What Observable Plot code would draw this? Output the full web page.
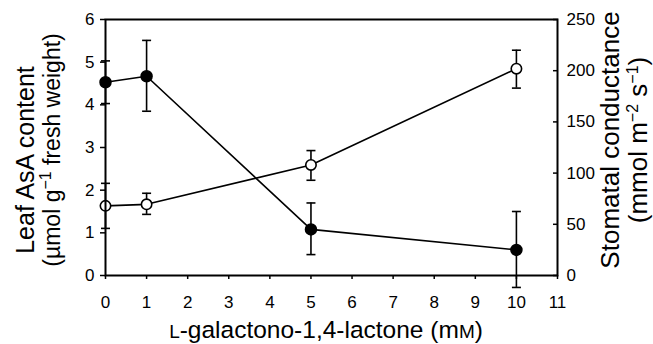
<!DOCTYPE html>
<html><head><meta charset="utf-8">
<script src="https://cdn.jsdelivr.net/npm/d3@7"></script>
<script src="https://cdn.jsdelivr.net/npm/@observablehq/plot@0.6"></script>
<style>body{margin:0;background:#fff} svg{font-family:"Liberation Sans",Arial,sans-serif}</style>
</head><body><div id="chart"></div>
<script>
const concentration = [0, 1, 5, 10];
const asaMean = [4.53, 4.67, 1.08, 0.60];
const asaLow = [4.03, 3.85, 0.49, -0.28];
const asaHigh = [5.03, 5.51, 1.70, 1.50];
const conductanceMean = [68, 69.5, 108, 202];
const conductanceLow = [46, 59.7, 93, 183];
const conductanceHigh = [90, 80.3, 122, 220];
const xTicks = [0, 1, 2, 3, 4, 5, 6, 7, 8, 9, 10, 11];
const leftTicks = [0, 1, 2, 3, 4, 5, 6];
const rightTicks = [0, 50, 100, 150, 200, 250];

const k = 250 / 6;
const asa = concentration.map((x, i) => ({x, y: asaMean[i], lo: asaLow[i], hi: asaHigh[i]}));
const cond = concentration.map((x, i) => ({x, y: conductanceMean[i] / k, lo: conductanceLow[i] / k, hi: conductanceHigh[i] / k}));
const caps = [...asa, ...cond].flatMap(d => [{x: d.x, y: d.lo}, {x: d.x, y: d.hi}]);
const capSymbol = {draw(ctx) { ctx.moveTo(-4.5, 0); ctx.lineTo(4.5, 0); }};

const plot = Plot.plot({
  width: 653, height: 344,
  marginLeft: 105, marginRight: 96, marginTop: 19, marginBottom: 69,
  style: {fontFamily: '"Liberation Sans", Arial, sans-serif', fontSize: "17px", color: "black", background: "white", overflow: "visible"},
  x: {domain: [0, 11], label: null},
  y: {domain: [0, 6], label: null},
  marks: [
    Plot.ruleX(asa, {x: "x", y1: "lo", y2: "hi", stroke: "black", strokeWidth: 1.6}),
    Plot.ruleX(cond, {x: "x", y1: "lo", y2: "hi", stroke: "black", strokeWidth: 1.6}),
    Plot.dot(caps, {x: "x", y: "y", symbol: capSymbol, stroke: "black", strokeWidth: 1.6, r: 4}),
    Plot.line(asa, {x: "x", y: "y", stroke: "black", strokeWidth: 1.6}),
    Plot.line(cond, {x: "x", y: "y", stroke: "black", strokeWidth: 1.6}),
    Plot.dot(asa, {x: "x", y: "y", r: 5.5, fill: "black", stroke: "black"}),
    Plot.dot(cond, {x: "x", y: "y", r: 5.2, fill: "white", stroke: "black", strokeWidth: 1.6}),
    Plot.frame({stroke: "black", strokeWidth: 2}),
    Plot.axisX(xTicks, {tickSize: 4, tickPadding: 16, strokeWidth: 1.5, label: null, tickFormat: d => String(d)}),
    Plot.axisY(leftTicks, {anchor: "left", tickSize: 5, tickPadding: 6, strokeWidth: 1.5, label: null, tickFormat: d => String(d)}),
    Plot.axisY(rightTicks.map(v => v / k), {anchor: "right", tickSize: -5, tickPadding: 14, strokeWidth: 1.5, label: null, tickFormat: d => String(Math.round(d * k))})
  ]
});

const svg = d3.select(plot);
const sup = 16;
svg.append("text").attr("transform", "translate(34,160) rotate(-90)")
  .attr("text-anchor", "middle").attr("font-size", 25).attr("fill", "black")
  .text("Leaf AsA content");
const l2 = svg.append("text").attr("transform", "translate(60,150) rotate(-90)")
  .attr("text-anchor", "middle").attr("font-size", 23).attr("fill", "black");
l2.append("tspan").text("(µmol g");
l2.append("tspan").attr("dy", -9).attr("font-size", sup).text("−1");
l2.append("tspan").attr("dy", 9).text(" fresh weight)");

const right = svg.append("text").attr("transform", "translate(619,140) rotate(-90)")
  .attr("text-anchor", "middle").attr("font-size", 26).attr("fill", "black");
right.append("tspan").attr("x", 0).attr("y", 0).text("Stomatal conductance");
const r2 = right.append("tspan").attr("x", 0).attr("y", 28);
r2.append("tspan").text("(mmol m");
r2.append("tspan").attr("dy", -9).attr("font-size", sup).text("−2");
r2.append("tspan").attr("dy", 9).text(" s");
r2.append("tspan").attr("dy", -9).attr("font-size", sup).text("−1");
r2.append("tspan").attr("dy", 9).text(")");

const xt = svg.append("text").attr("x", 326).attr("y", 338).attr("text-anchor", "middle")
  .attr("font-size", 24.5).attr("fill", "black");
xt.append("tspan").attr("font-size", 19).text("L");
xt.append("tspan").text("-galactono-1,4-lactone (m");
xt.append("tspan").attr("font-size", 19).text("M");
xt.append("tspan").text(")");

document.getElementById("chart").append(plot);
</script>
</body></html>
